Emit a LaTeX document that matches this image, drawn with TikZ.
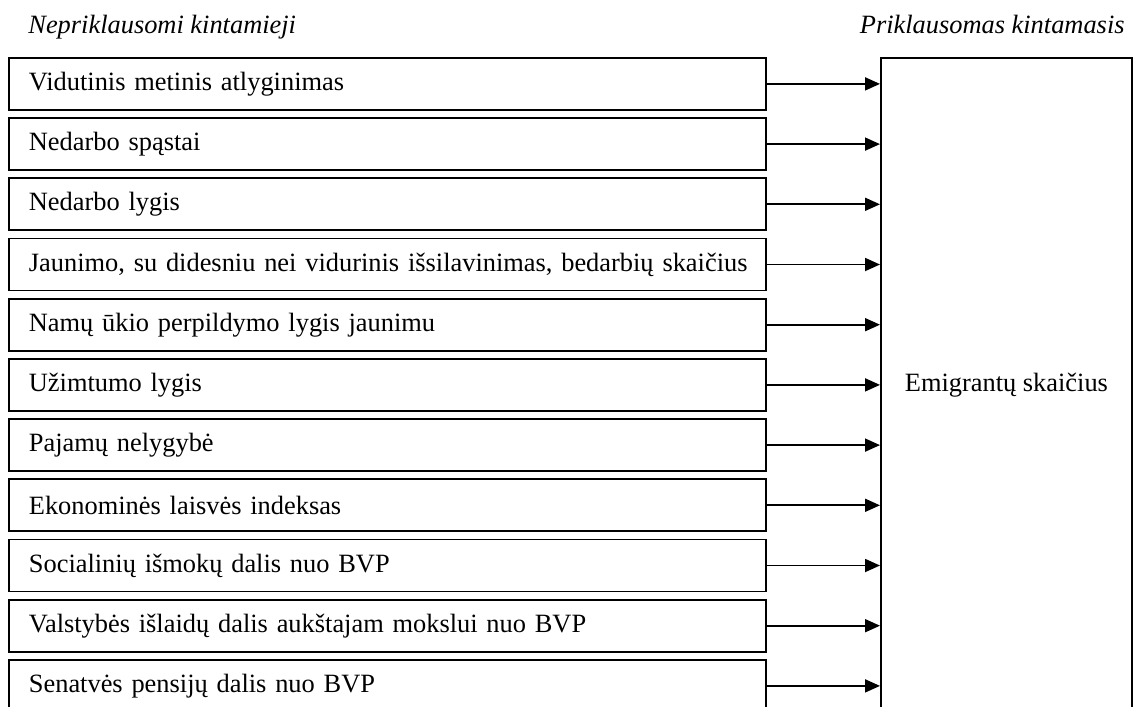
\documentclass[tikz,border=0pt]{standalone}
\usepackage{fontspec}
\setmainfont{Liberation Serif}
\usetikzlibrary{arrows.meta, positioning}

\tikzset{
  varbox/.style={draw, line width=0.9pt, anchor=north west,
                 minimum width=378.5pt, minimum height=26pt,
                 text width=358.5pt, inner xsep=10pt, align=left,
                 font=\fontsize{13.2}{16}\selectfont},
  depbox/.style={draw, line width=0.9pt, anchor=north west,
                 minimum width=125.5pt, minimum height=327pt,
                 font=\fontsize{13.2}{16}\selectfont},
  title/.style={inner sep=0pt, font=\fontsize{13.2}{16}\selectfont\itshape},
  arr/.style={-{Triangle[length=7.5pt,width=6.5pt]}, line width=0.9pt}
}

\begin{document}
\begin{tikzpicture}[x=0.5pt, y=-0.5pt]
    \clip (0,0) rectangle (1139,706);

    % antraštės
    \node[title, anchor=base west] (indep) at (28,34) {Nepriklausomi kintamieji};
    \node[title, anchor=base east] (deptitle) at (1125,34) {Priklausomas kintamasis};

    % nepriklausomi kintamieji
    \foreach \txt [count=\i] in {Vidutinis metinis atlyginimas, Nedarbo spąstai,
        Nedarbo lygis,
        {\mbox{Jaunimo, su didesniu nei vidurinis išsilavinimas, bedarbių skaičius}},
        Namų ūkio perpildymo lygis jaunimu, Užimtumo lygis, Pajamų nelygybė,
        Ekonominės laisvės indeksas, Socialinių išmokų dalis nuo BVP,
        Valstybės išlaidų dalis aukštajam mokslui nuo BVP,
        Senatvės pensijų dalis nuo BVP}
      \node[varbox] (v\i) at (8,{57+60.2*(\i-1)}) {\txt};

    % priklausomas kintamasis
    \node[depbox] (dep) at (880,57) {Emigrantų skaičius};

    \foreach \i in {1,...,11}
      \draw[arr] (v\i.east) -- (v\i.east -| dep.west);
\end{tikzpicture}
\end{document}
